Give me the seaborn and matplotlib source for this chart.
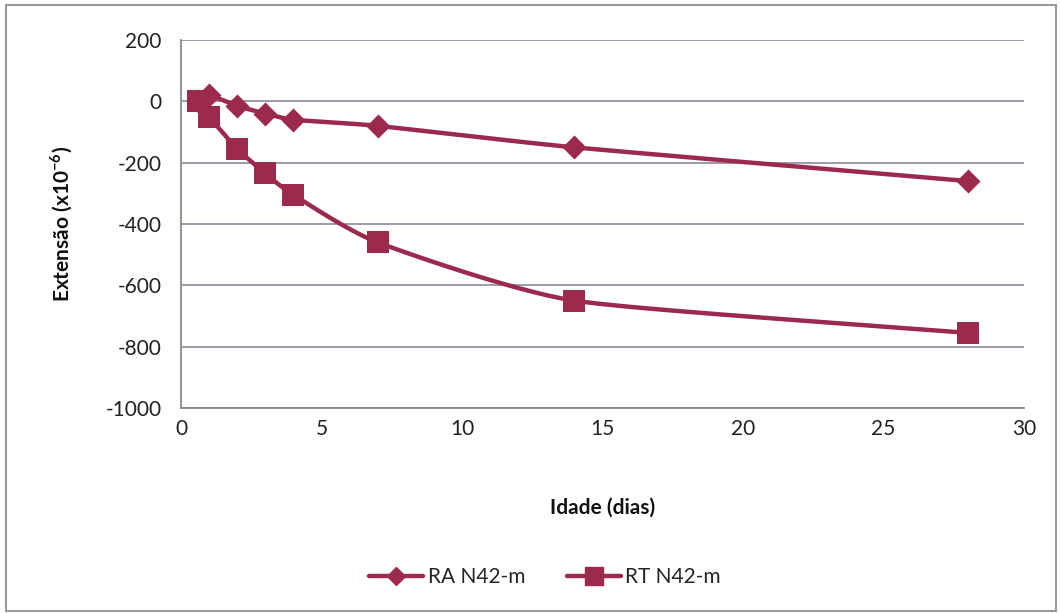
import numpy as np
import pandas as pd
import matplotlib
matplotlib.use("Agg")
import matplotlib.pyplot as plt
from matplotlib.patches import Rectangle
import seaborn as sns

# Strain measurements (x10^-6) versus age in days
idade = [0.6, 1, 2, 3, 4, 7, 14, 28]
ra_n42m = [0, 20, -15, -40, -60, -80, -150, -260]
rt_n42m = [0, -50, -155, -235, -305, -460, -650, -755]
series_names = ["RA N42-m", "RT N42-m"]
x_ticks = [0, 5, 10, 15, 20, 25, 30]
y_ticks = [200, 0, -200, -400, -600, -800, -1000]

color = "#9B2A4C"

sns.set_theme(style="white")
plt.rcParams["font.family"] = ["Lato", "DejaVu Sans"]
plt.rcParams["axes.unicode_minus"] = False


def smooth_curve(x, y, n=30):
    """Cardinal (Hermite) spline curve passing through the given points."""
    x = np.asarray(x, float)
    y = np.asarray(y, float)
    px = np.concatenate([[2 * x[0] - x[1]], x, [2 * x[-1] - x[-2]]])
    py = np.concatenate([[2 * y[0] - y[1]], y, [2 * y[-1] - y[-2]]])
    xs, ys = [], []
    t = np.linspace(0, 1, n)
    for i in range(1, len(px) - 2):
        p0, p1, p2, p3 = [np.array([px[j], py[j]]) for j in range(i - 1, i + 3)]
        m1 = (p2 - p0) / 2 * 0.6
        m2 = (p3 - p1) / 2 * 0.6
        h00 = 2 * t**3 - 3 * t**2 + 1
        h10 = t**3 - 2 * t**2 + t
        h01 = -2 * t**3 + 3 * t**2
        h11 = t**3 - t**2
        seg = (np.outer(h00, p1) + np.outer(h10, m1) + np.outer(h01, p2) + np.outer(h11, m2))
        xs.append(seg[:, 0])
        ys.append(seg[:, 1])
    return np.concatenate(xs), np.concatenate(ys)


df = pd.DataFrame({
    "idade": idade * 2,
    "valor": ra_n42m + rt_n42m,
    "serie": [series_names[0]] * len(idade) + [series_names[1]] * len(idade),
})

fig = plt.figure(figsize=(10.6, 6.13), dpi=100)
ax = fig.add_axes([181 / 1060, 1 - 408 / 613, (1024 - 181) / 1060, (408 - 40) / 613])

# smooth connecting lines
for name, vals in zip(series_names, [ra_n42m, rt_n42m]):
    sx, sy = smooth_curve(idade, vals)
    ax.plot(sx, sy, color=color, lw=3.2, zorder=2, solid_capstyle="round")

# markers
sns.scatterplot(data=df[df["serie"] == series_names[0]], x="idade", y="valor",
                marker="D", s=150, color=color, edgecolor=color, linewidth=0,
                legend=False, ax=ax, zorder=3)
sns.scatterplot(data=df[df["serie"] == series_names[1]], x="idade", y="valor",
                marker="s", s=270, color=color, edgecolor=color, linewidth=0,
                legend=False, ax=ax, zorder=3)

ax.set_xlim(0, 30)
ax.set_ylim(-1000, 200)
ax.set_xticks(x_ticks)
ax.set_yticks(y_ticks)
ax.tick_params(axis="both", labelsize=15, length=0, colors="#222222")
ax.tick_params(axis="y", pad=14)
ax.tick_params(axis="x", pad=8)
ax.yaxis.grid(True, color="#8a8aa0", lw=1.2)
ax.xaxis.grid(False)
for side in ["top", "right"]:
    ax.spines[side].set_visible(False)
for side in ["left", "bottom"]:
    ax.spines[side].set_color("#8a8a8a")
    ax.spines[side].set_linewidth(1.3)

ax.set_xlabel("Idade (dias)", fontsize=15, fontweight="bold", labelpad=42, color="#111111")
ax.set_ylabel("Extensão (x10$^{\\mathregular{-6}}$)", fontsize=15, fontweight="bold",
              labelpad=22, color="#111111")

# legend
handles = [
    plt.Line2D([], [], color=color, lw=3.2, marker="D", ms=9),
    plt.Line2D([], [], color=color, lw=3.2, marker="s", ms=13),
]
fig.legend(handles, series_names, loc="center", bbox_to_anchor=(545 / 1060, 1 - 577 / 613),
           ncol=2, frameon=False, fontsize=15, handlelength=2.6, columnspacing=2.0,
           handletextpad=0.2)

# chart border
fig.patches.append(Rectangle((6 / 1060, 2 / 613), 1050 / 1060, 606 / 613,
                             transform=fig.transFigure, fill=False,
                             edgecolor="#9a9a9a", lw=1.5))

fig.savefig("out.png", dpi=100)
